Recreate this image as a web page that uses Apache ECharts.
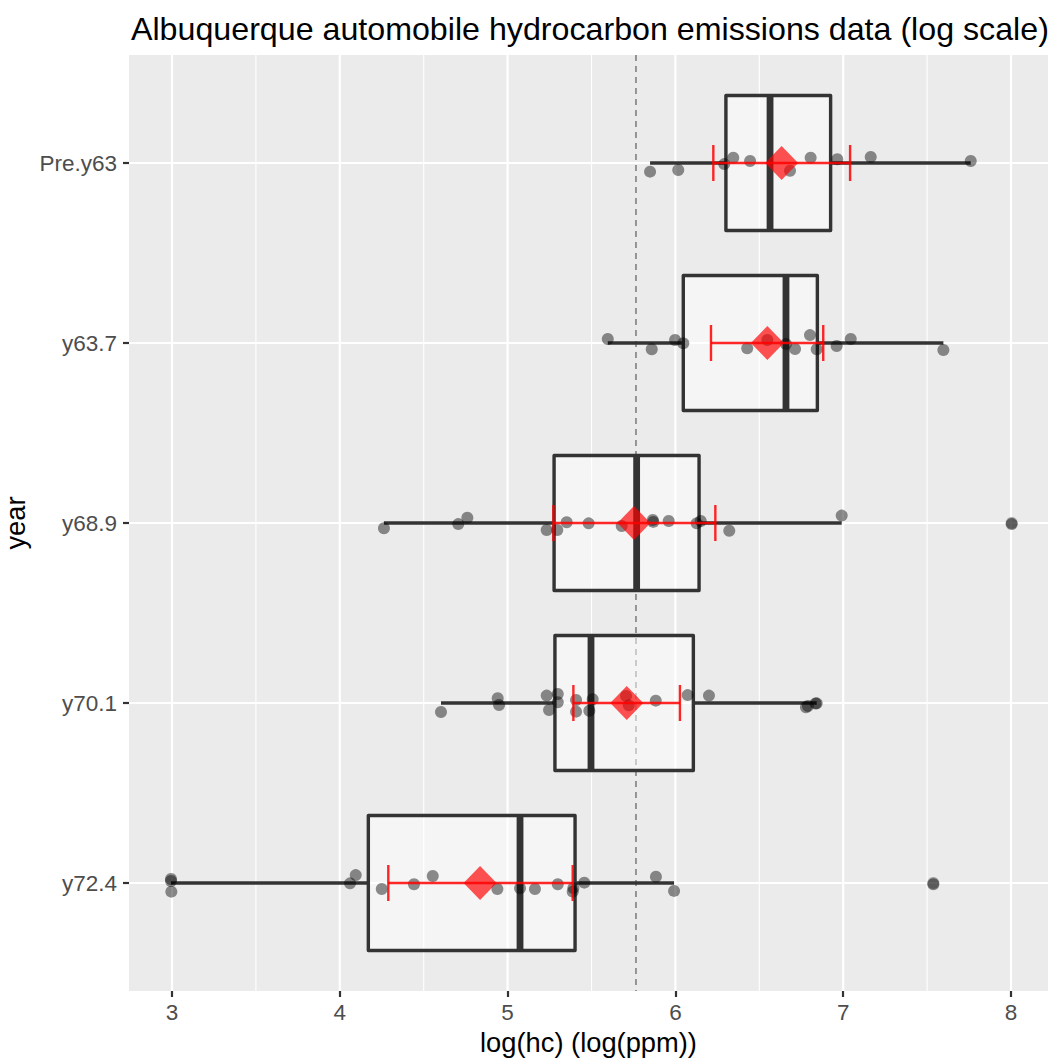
<!DOCTYPE html>
<html>
<head>
<meta charset="utf-8">
<title>Albuquerque automobile hydrocarbon emissions</title>
<script src="https://cdn.jsdelivr.net/npm/echarts@6/dist/echarts.min.js"></script>
<style>
  html, body { margin: 0; padding: 0; background: #ffffff; }
  #chart { width: 1048px; height: 1059px; }
</style>
</head>
<body>
<div id="chart"></div>
<script>
// ---- data ---------------------------------------------------------------
const categories = ['Pre.y63', 'y63.7', 'y68.9', 'y70.1', 'y72.4'];
const xTicks = [3, 4, 5, 6, 7, 8];
const xMinorTicks = [3.5, 4.5, 5.5, 6.5, 7.5];

// box statistics of log(hc) per model year
const whiskerLow  = [5.849, 5.597, 4.263, 4.603, 2.994];
const q1          = [6.301, 6.047, 5.277, 5.282, 4.170];
const median      = [6.564, 6.659, 5.769, 5.497, 5.074];
const q3          = [6.925, 6.846, 6.141, 6.107, 5.402];
const whiskerHigh = [7.760, 7.597, 6.991, 6.842, 5.992];

// group means with their confidence limits
const groupMean = [6.633, 6.548, 5.753, 5.710, 4.836];
const ciLow     = [6.226, 6.212, 5.273, 5.392, 4.289];
const ciHigh    = [7.041, 6.881, 6.238, 6.027, 5.388];

// overall mean of log(hc)
const grandMean = 5.765;

// outliers flagged by the box plot: [value, category index]
const outlierValues = [8.004, 7.537];
const outlierGroups = [2, 4];

// individual observations and their vertical jitter (category units)
const obsPreY63 = [5.849, 6.017, 6.291, 6.345, 6.445, 6.683, 6.806, 6.965, 7.164, 7.760];
const jitPreY63 = [0.048, 0.039, 0.006, -0.029, -0.011, 0.043, -0.029, -0.021, -0.033, -0.011];

const obsY637 = [5.597, 5.859, 5.998, 6.047, 6.428, 6.548, 6.659, 6.713, 6.802, 6.842, 6.961, 7.045, 7.597];
const jitY637 = [-0.022, 0.035, -0.017, 0.002, 0.029, -0.017, 0.006, 0.033, -0.044, 0.035, 0.017, -0.022, 0.039];

const obsY689 = [4.263, 4.706, 4.760, 5.233, 5.296, 5.352, 5.483, 5.680, 5.865, 5.868, 5.960, 6.127, 6.151, 6.321, 6.991, 8.004];
const jitY689 = [0.029, 0.006, -0.029, 0.039, 0.039, -0.004, 0.002, 0.017, -0.017, -0.006, -0.011, 0.002, -0.011, 0.043, -0.041, 0.006];

const obsY701 = [4.603, 4.941, 4.949, 5.233, 5.247, 5.299, 5.299, 5.408, 5.408, 5.487, 5.507, 5.706, 5.722, 5.883, 6.073, 6.200, 6.778, 6.790, 6.835, 6.842];
const jitY701 = [0.050, -0.026, 0.011, -0.041, 0.039, -0.050, -0.004, -0.017, 0.048, 0.043, -0.021, -0.039, 0.013, -0.013, -0.044, -0.041, 0.024, 0.017, 0.003, 0.002];

const obsY724 = [2.994, 2.994, 2.996, 4.061, 4.095, 4.250, 4.442, 4.554, 4.939, 5.074, 5.163, 5.299, 5.388, 5.392, 5.457, 5.884, 5.992, 7.537];
const jitY724 = [-0.022, -0.011, 0.048, 0.002, -0.044, 0.033, 0.007, -0.039, 0.033, 0.029, 0.033, 0.007, 0.048, 0.028, -0.002, -0.035, 0.044, 0.007];

const observations = [obsPreY63, obsY637, obsY689, obsY701, obsY724];
const jitters = [jitPreY63, jitY637, jitY689, jitY701, jitY724];

// ---- derived series data ---------------------------------------------------
// categories sit at positions 1..n on a reversed numeric axis
const catPos = categories.map((c, i) => i + 1);

const boxData = categories.map((c, i) =>
  [catPos[i], whiskerLow[i], q1[i], median[i], q3[i], whiskerHigh[i]]);

const pointData = [];
observations.forEach((vals, i) => {
  vals.forEach((v, j) => pointData.push([v, catPos[i] + jitters[i][j]]));
});

const outlierData = outlierValues.map((v, k) => [v, catPos[outlierGroups[k]]]);
const meanData = groupMean.map((m, i) => [m, catPos[i]]);
const ciData = categories.map((c, i) => [catPos[i], ciLow[i], ciHigh[i]]);

// ---- styling constants -------------------------------------------------------
const FONT = '"Liberation Sans", Arial, Helvetica, sans-serif';
const BOX_HALF = 0.375;   // half box height, in category units
const CAP_HALF = 0.1;     // half error-bar cap height
const LINE_DARK = '#333333';
const RED = 'rgba(255,0,0,0.85)';

function vLineSeries(name, values, width) {
  return {
    type: 'custom', name: name, silent: true, z: 1,
    data: values.map(v => [v, 1]),
    renderItem: function (params, api) {
      const cs = params.coordSys;
      const x = api.coord([api.value(0), 1])[0];
      return { type: 'line', shape: { x1: x, y1: cs.y, x2: x, y2: cs.y + cs.height },
               style: { stroke: '#ffffff', lineWidth: width } };
    }
  };
}

const chart = echarts.init(document.getElementById('chart'), null, { renderer: 'svg' });

chart.setOption({
  animation: false,
  backgroundColor: '#ffffff',
  textStyle: { fontFamily: FONT },
  title: {
    text: 'Albuquerque automobile hydrocarbon emissions data (log scale)',
    left: 126, top: 8,
    textStyle: { fontFamily: FONT, fontSize: 32.2, fontWeight: 'normal', color: '#000000' }
  },
  grid: {
    left: 129, right: 0, top: 55, bottom: 68,
    outerBoundsMode: 'none',
    containLabel: false,
    show: true, backgroundColor: '#EBEBEB', borderWidth: 0
  },
  xAxis: {
    type: 'value',
    min: 2.7437, max: 8.2205,
    name: 'log(hc) (log(ppm))',
    nameLocation: 'middle', nameGap: 38,
    nameTextStyle: { fontFamily: FONT, fontSize: 27.3, color: '#000000' },
    axisLine: { show: false },
    axisTick: { show: true, length: 6, customValues: xTicks,
                lineStyle: { color: LINE_DARK, width: 2.2 } },
    axisLabel: { customValues: xTicks, margin: 10, fontSize: 22.5, color: '#4D4D4D',
                 fontFamily: FONT, formatter: v => String(v) },
    splitLine: { show: false }
  },
  yAxis: {
    type: 'value',
    min: 0.4, max: 5.6, inverse: true,
    name: 'year',
    nameLocation: 'middle', nameGap: 92, nameRotate: 90,
    nameTextStyle: { fontFamily: FONT, fontSize: 27.3, color: '#000000' },
    axisLine: { show: false },
    axisTick: { show: true, length: 6, customValues: catPos,
                lineStyle: { color: LINE_DARK, width: 2.2 } },
    axisLabel: { customValues: catPos, margin: 12, fontSize: 22.5, color: '#4D4D4D',
                 fontFamily: FONT, formatter: v => categories[Math.round(v) - 1] || '' },
    splitLine: { show: false }
  },
  series: [
    // panel grid lines
    vLineSeries('minor grid', xMinorTicks, 1.1),
    vLineSeries('major grid', xTicks, 2.2),
    {
      type: 'custom', name: 'category grid', silent: true, z: 1,
      data: catPos.map(p => [3, p]),
      renderItem: function (params, api) {
        const cs = params.coordSys;
        const y = api.coord([3, api.value(1)])[1];
        return { type: 'line', shape: { x1: cs.x, y1: y, x2: cs.x + cs.width, y2: y },
                 style: { stroke: '#ffffff', lineWidth: 2.2 } };
      }
    },
    // overall mean reference line
    {
      type: 'custom', name: 'overall mean', silent: true, z: 2,
      data: [[grandMean, 1]],
      renderItem: function (params, api) {
        const cs = params.coordSys;
        const x = api.coord([api.value(0), 1])[0];
        return { type: 'line', shape: { x1: x, y1: cs.y, x2: x, y2: cs.y + cs.height },
                 style: { stroke: '#7F7F7F', lineWidth: 1.6, lineDash: [6, 5] } };
      }
    },
    // box plots
    {
      type: 'custom', name: 'boxplot', z: 3,
      data: boxData,
      encode: { y: 0, x: [1, 2, 3, 4, 5] },
      renderItem: function (params, api) {
        const p = api.value(0);
        const lo = api.coord([api.value(1), p]);
        const a = api.coord([api.value(2), p - BOX_HALF]);
        const med = api.coord([api.value(3), p]);
        const b = api.coord([api.value(4), p + BOX_HALF]);
        const hi = api.coord([api.value(5), p]);
        const top = Math.min(a[1], b[1]);
        const h = Math.abs(b[1] - a[1]);
        return {
          type: 'group',
          children: [
            { type: 'line', shape: { x1: lo[0], y1: lo[1], x2: a[0], y2: lo[1] },
              style: { stroke: LINE_DARK, lineWidth: 3.4 } },
            { type: 'line', shape: { x1: b[0], y1: hi[1], x2: hi[0], y2: hi[1] },
              style: { stroke: LINE_DARK, lineWidth: 3.4 } },
            { type: 'rect', shape: { x: a[0], y: top, width: b[0] - a[0], height: h },
              style: { fill: 'rgba(255,255,255,0.5)', stroke: LINE_DARK, lineWidth: 3.4,
                       lineJoin: 'round' } },
            { type: 'line', shape: { x1: med[0], y1: top, x2: med[0], y2: top + h },
              style: { stroke: LINE_DARK, lineWidth: 6.8 } }
          ]
        };
      }
    },
    // outliers drawn by the box plot
    {
      type: 'scatter', name: 'outliers', z: 4, silent: true,
      data: outlierData, symbol: 'circle', symbolSize: 12,
      itemStyle: { color: 'rgba(51,51,51,0.5)' }
    },
    // jittered observations
    {
      type: 'scatter', name: 'observations', z: 5, silent: true,
      data: pointData, symbol: 'circle', symbolSize: 12,
      itemStyle: { color: 'rgba(0,0,0,0.55)' }
    },
    // confidence interval of the mean
    {
      type: 'custom', name: 'mean CI', z: 6,
      data: ciData,
      encode: { y: 0, x: [1, 2] },
      renderItem: function (params, api) {
        const p = api.value(0);
        const l = api.coord([api.value(1), p]);
        const r = api.coord([api.value(2), p]);
        const capT = api.coord([api.value(1), p - CAP_HALF])[1];
        const capB = api.coord([api.value(1), p + CAP_HALF])[1];
        const st = { stroke: RED, lineWidth: 2.4 };
        return {
          type: 'group',
          children: [
            { type: 'line', shape: { x1: l[0], y1: l[1], x2: r[0], y2: r[1] }, style: st },
            { type: 'line', shape: { x1: l[0], y1: capT, x2: l[0], y2: capB }, style: st },
            { type: 'line', shape: { x1: r[0], y1: capT, x2: r[0], y2: capB }, style: st }
          ]
        };
      }
    },
    // group means
    {
      type: 'scatter', name: 'mean', z: 7, silent: true,
      data: meanData, symbol: 'diamond', symbolSize: [33, 34],
      itemStyle: { color: RED }
    }
  ]
});
</script>
</body>
</html>
